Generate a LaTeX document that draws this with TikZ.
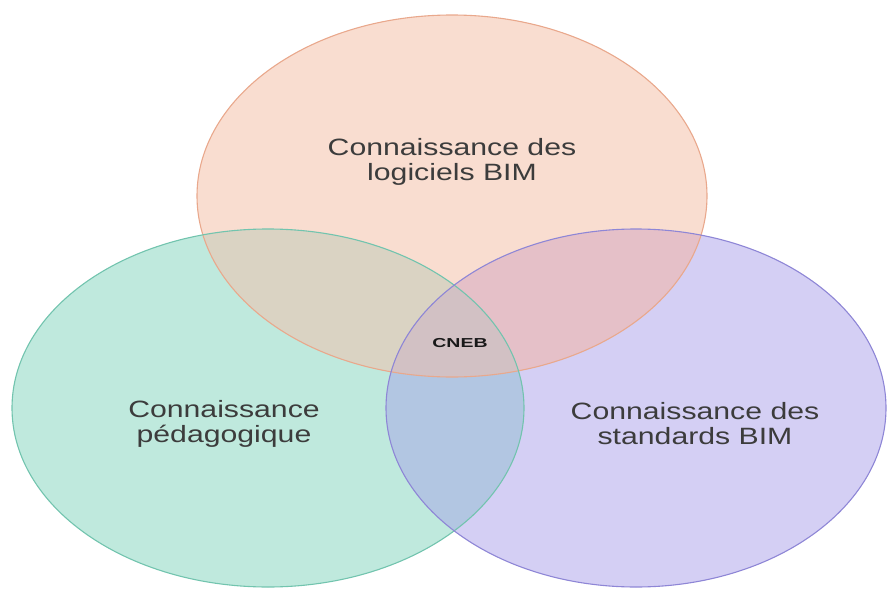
\documentclass[tikz,border=0pt]{standalone}
\usepackage{fontspec}
\setmainfont{Liberation Sans}
\newfontfamily\wideSans[FakeStretch=1.28]{Liberation Sans}
\newfontfamily\wideBold[FakeStretch=1.5]{Liberation Sans Bold}

\definecolor{topfill}{HTML}{F9DDD0}
\definecolor{leftfill}{HTML}{BFE9DD}
\definecolor{rightfill}{HTML}{D4CFF4}
\definecolor{tlfill}{HTML}{DAD3C3}
\definecolor{trfill}{HTML}{E5C0C8}
\definecolor{lrfill}{HTML}{B2C6E2}
\definecolor{allfill}{HTML}{D2C1C4}
\definecolor{topline}{HTML}{E9A88C}
\definecolor{leftline}{HTML}{72C4AE}
\definecolor{rightline}{HTML}{8E86D6}
\definecolor{labeltext}{HTML}{3C3C3C}

\tikzset{
  setlabel/.style={font=\wideSans\fontsize{23.6}{25}\selectfont, text=labeltext, align=center, inner sep=0pt},
  corelabel/.style={font=\wideBold\fontsize{13}{15}\selectfont, text=black!90, inner sep=0pt}
}

\begin{document}
\begin{tikzpicture}[x=1pt,y=-1pt]
\useasboundingbox (0,0) rectangle (887,589);
\def\topset{(452,196) ellipse [x radius=255pt, y radius=181pt]}
\def\leftset{(268,408) ellipse [x radius=256pt, y radius=179pt]}
\def\rightset{(636,408) ellipse [x radius=250pt, y radius=179pt]}

\fill[topfill] \topset;
\fill[leftfill] \leftset;
\fill[rightfill] \rightset;
\begin{scope}
  \clip \topset;
  \fill[tlfill] \leftset;
  \fill[trfill] \rightset;
\end{scope}
\begin{scope}
  \clip \leftset;
  \fill[lrfill] \rightset;
\end{scope}
\begin{scope}
  \clip \topset;
  \clip \leftset;
  \fill[allfill] \rightset;
\end{scope}
\draw[topline, line width=1.1pt] \topset;
\draw[leftline, line width=1.1pt] \leftset;
\draw[rightline, line width=1.1pt] \rightset;

\node[setlabel] (LOGICIELS) at (452,162) {Connaissance des\\logiciels BIM};
\node[setlabel] (PEDAGO) at (224,424) {Connaissance\\pédagogique};
\node[setlabel] (STANDARDS) at (695,424) {Connaissance des\\standards BIM};
\node[corelabel] (CNEB) at (460,343) {CNEB};
\end{tikzpicture}
\end{document}
